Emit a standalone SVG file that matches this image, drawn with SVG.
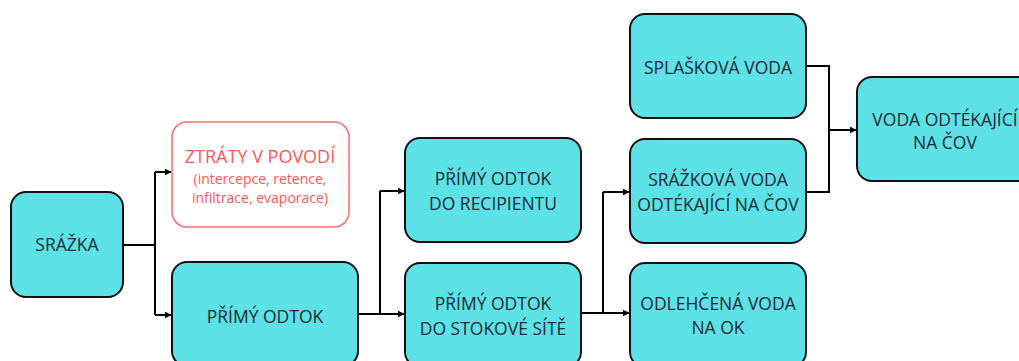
<svg xmlns="http://www.w3.org/2000/svg" width="1019" height="361" viewBox="0 0 1019 361">
  <defs>
    <marker id="arrow" viewBox="0 0 10 10" refX="9" refY="5" markerWidth="7" markerHeight="7" orient="auto" markerUnits="userSpaceOnUse">
      <path d="M0,0 L10,5 L0,10 z" fill="#000"/>
    </marker>
    <style>
      .box { fill: #5ce1e6; stroke: #111; stroke-width: 2; }
      .loss { fill: #fff; stroke: #ff6b6b; stroke-width: 1.5; }
      .lbl { font-family: "Open Sans", "Liberation Sans", sans-serif; font-size: 17.5px; fill: #1c2a33; text-anchor: middle; }
      .red { font-family: "Open Sans", "Liberation Sans", sans-serif; fill: #ff5757; text-anchor: middle; }
      .wire { fill: none; stroke: #000; stroke-width: 2; }
      .arr { marker-end: url(#arrow); }
    </style>
  </defs>
  <rect width="1019" height="361" fill="#fff"/>

  <g id="connectors">
    <!-- precipitation splits into losses and direct runoff -->
    <path class="wire" d="M123,245 H155 M155,172 V315"/>
    <path class="wire arr" d="M155,172 H171"/>
    <path class="wire arr" d="M155,315 H171"/>
    <!-- direct runoff splits into recipient and sewer -->
    <path class="wire" d="M358,314 H380 V191"/>
    <path class="wire arr" d="M380,191 H404"/>
    <path class="wire arr" d="M380,314 H404"/>
    <!-- sewer splits into stormwater to WWTP and overflow -->
    <path class="wire" d="M581,313 H603 V192"/>
    <path class="wire arr" d="M603,192 H629"/>
    <path class="wire arr" d="M603,313 H629"/>
    <!-- sewage and stormwater join towards WWTP -->
    <path class="wire" d="M806,66 H829 V192 H806"/>
    <path class="wire arr" d="M829,130 H856"/>
  </g>

  <g id="n-srazka">
    <rect class="box" x="11" y="192" width="112" height="105" rx="15"/>
    <text class="lbl" x="67" y="251">SRÁŽKA</text>
  </g>

  <g id="n-ztraty">
    <rect class="loss" x="172" y="122" width="177" height="105" rx="15"/>
    <text class="red" x="260" y="163" font-size="18">ZTRÁTY V POVODÍ</text>
    <text class="red" x="260" y="184" font-size="14">(intercepce, retence,</text>
    <text class="red" x="260" y="203" font-size="14">infiltrace, evaporace)</text>
  </g>

  <g id="n-primy-odtok">
    <rect class="box" x="172" y="262" width="186" height="104" rx="15"/>
    <text class="lbl" x="265" y="323">PŘÍMÝ ODTOK</text>
  </g>

  <g id="n-recipient">
    <rect class="box" x="405" y="138" width="176" height="104" rx="15"/>
    <text class="lbl" x="493" y="185">PŘÍMÝ ODTOK</text>
    <text class="lbl" x="493" y="210">DO RECIPIENTU</text>
  </g>

  <g id="n-stokova-sit">
    <rect class="box" x="405" y="263" width="176" height="104" rx="15"/>
    <text class="lbl" x="493" y="310">PŘÍMÝ ODTOK</text>
    <text class="lbl" x="493" y="335">DO STOKOVÉ SÍTĚ</text>
  </g>

  <g id="n-splaskova">
    <rect class="box" x="630" y="14" width="176" height="104" rx="15"/>
    <text class="lbl" x="718" y="74">SPLAŠKOVÁ VODA</text>
  </g>

  <g id="n-srazkova">
    <rect class="box" x="630" y="139" width="176" height="104" rx="15"/>
    <text class="lbl" x="718" y="186">SRÁŽKOVÁ VODA</text>
    <text class="lbl" x="718" y="211">ODTÉKAJÍCÍ NA ČOV</text>
  </g>

  <g id="n-odlehcena">
    <rect class="box" x="630" y="263" width="176" height="104" rx="15"/>
    <text class="lbl" x="718" y="310">ODLEHČENÁ VODA</text>
    <text class="lbl" x="718" y="334">NA OK</text>
  </g>

  <g id="n-cov">
    <rect class="box" x="857" y="77" width="176" height="104" rx="15"/>
    <text class="lbl" x="945" y="126">VODA ODTÉKAJÍCÍ</text>
    <text class="lbl" x="945" y="149">NA ČOV</text>
  </g>
</svg>
